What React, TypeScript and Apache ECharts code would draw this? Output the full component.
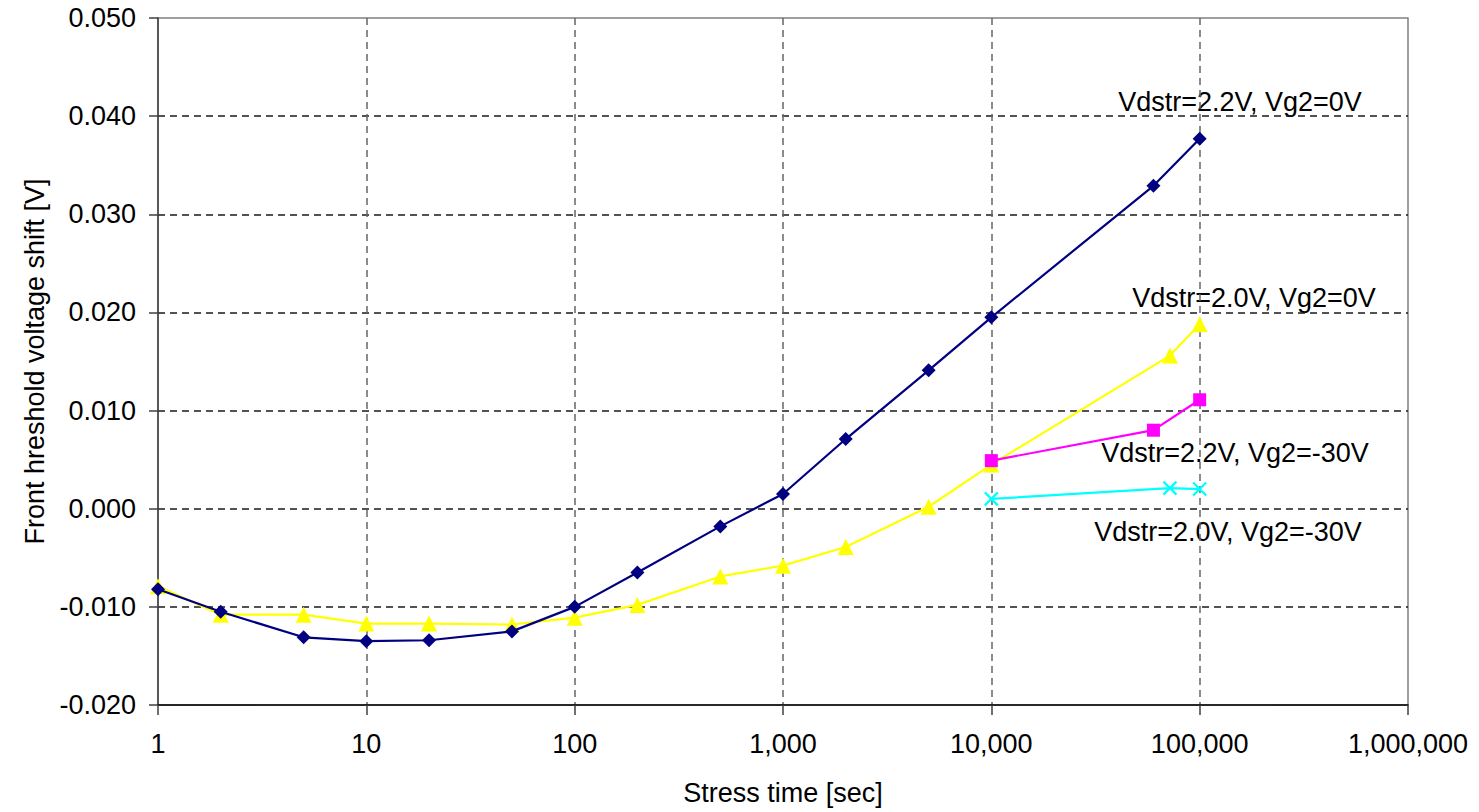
import React, { useEffect, useRef } from "react";
import * as echarts from "echarts";

const timesA = [1, 2, 5, 10, 20, 50, 100, 200, 500, 1000, 2000, 5000, 10000, 60000, 100000];
const vds22vg0 = [-0.0082, -0.0105, -0.0131, -0.0135, -0.0134, -0.0125, -0.0100, -0.0065, -0.0018, 0.0015, 0.0071, 0.0141, 0.0195, 0.0329, 0.0377];
const timesB = [1, 2, 5, 10, 20, 50, 100, 200, 500, 1000, 2000, 5000, 10000, 72000, 100000];
const vds20vg0 = [-0.0079, -0.0108, -0.0108, -0.0117, -0.0117, -0.0118, -0.0111, -0.0098, -0.0069, -0.0058, -0.0039, 0.0002, 0.0045, 0.0156, 0.0188];
const timesC = [10000, 60000, 100000];
const vds22vg30 = [0.0049, 0.0080, 0.0111];
const timesD = [10000, 72000, 100000];
const vds20vg30 = [0.0010, 0.0021, 0.0020];

const seriesNames = [
  "Vdstr=2.2V, Vg2=0V",
  "Vdstr=2.0V, Vg2=0V",
  "Vdstr=2.2V, Vg2=-30V",
  "Vdstr=2.0V, Vg2=-30V",
];

const FONT = "'Liberation Sans', Arial, sans-serif";
const FS = 27;

function zip(xs: number[], ys: number[]) {
  return xs.map((x, i) => [x, ys[i]]);
}

export default function App() {
  const ref = useRef<HTMLDivElement>(null);
  useEffect(() => {
    if (!ref.current) return;
    const chart = echarts.init(ref.current, undefined, { renderer: "svg" });
    const crossPath = "path://M0,0L10,10M10,0L0,10";
    const label = (text: string, x: number, y: number) => ({
      type: "text",
      x,
      y,
      style: { text, fontFamily: FONT, fontSize: FS, fill: "#000", align: "center", verticalAlign: "middle" },
    });
    chart.setOption({
      animation: false,
      backgroundColor: "#ffffff",
      grid: {
        left: 158,
        right: 71,
        top: 18,
        bottom: 107,
        show: true,
        borderColor: "#808080",
        borderWidth: 1.5,
        backgroundColor: "transparent",
      },
      xAxis: {
        type: "log",
        logBase: 10,
        min: 1,
        max: 1000000,
        name: "Stress time [sec]",
        nameLocation: "middle",
        nameGap: 74,
        nameTextStyle: { fontFamily: FONT, fontSize: FS, color: "#000" },
        axisLine: { show: true, onZero: false, lineStyle: { color: "#000", width: 1.5 } },
        axisTick: { show: true, inside: false, length: 10, lineStyle: { color: "#404040", width: 1.5 } },
        minorTick: { show: false },
        axisLabel: {
          fontFamily: FONT,
          fontSize: FS,
          color: "#000",
          margin: 25,
          formatter: (v: number) => Math.round(v).toLocaleString("en-US"),
        },
        splitLine: {
          show: true,
          showMinLine: false,
          showMaxLine: false,
          lineStyle: { color: "#666666", type: [7, 5], width: 1.5 },
        },
      },
      yAxis: {
        type: "value",
        min: -0.02,
        max: 0.05,
        interval: 0.01,
        name: "Front hreshold voltage shift [V]",
        nameLocation: "middle",
        nameGap: 110,
        nameRotate: 90,
        nameTextStyle: { fontFamily: FONT, fontSize: FS, color: "#000" },
        axisLine: { show: true, onZero: false, lineStyle: { color: "#404040", width: 1.5 } },
        axisTick: { show: true, inside: false, length: 9, lineStyle: { color: "#404040", width: 1.5 } },
        axisLabel: {
          fontFamily: FONT,
          fontSize: FS,
          color: "#000",
          margin: 22,
          formatter: (v: number) => v.toFixed(3),
        },
        splitLine: {
          show: true,
          showMinLine: false,
          showMaxLine: false,
          lineStyle: { color: "#1a1a1a", type: [7, 5], width: 1.5 },
        },
      },
      series: [
        {
          name: seriesNames[0],
          type: "line",
          data: zip(timesA, vds22vg0),
          symbol: "diamond",
          symbolSize: 14,
          lineStyle: { color: "#000080", width: 2.2 },
          itemStyle: { color: "#000080" },
          z: 4,
        },
        {
          name: seriesNames[1],
          type: "line",
          data: zip(timesB, vds20vg0),
          symbol: "triangle",
          symbolSize: 16,
          lineStyle: { color: "#FFFF00", width: 2.2 },
          itemStyle: { color: "#FFFF00" },
          z: 3,
        },
        {
          name: seriesNames[2],
          type: "line",
          data: zip(timesC, vds22vg30),
          symbol: "rect",
          symbolSize: 13,
          lineStyle: { color: "#FF00FF", width: 2.2 },
          itemStyle: { color: "#FF00FF" },
          z: 5,
        },
        {
          name: seriesNames[3],
          type: "line",
          data: zip(timesD, vds20vg30),
          symbol: crossPath,
          symbolSize: 13,
          lineStyle: { color: "#00FFFF", width: 2.2 },
          itemStyle: { color: "#00FFFF", borderColor: "#00FFFF", borderWidth: 2.2 },
          z: 5,
        },
      ],
      graphic: [
        label(seriesNames[0], 1240, 102),
        label(seriesNames[1], 1254, 298),
        label(seriesNames[2], 1235, 453),
        label(seriesNames[3], 1228, 532),
      ],
    });
    return () => chart.dispose();
  }, []);
  return (
    <div
      ref={ref}
      style={{ position: "fixed", left: 0, top: 0, width: 1479, height: 812, background: "#fff" }}
    />
  );
}
